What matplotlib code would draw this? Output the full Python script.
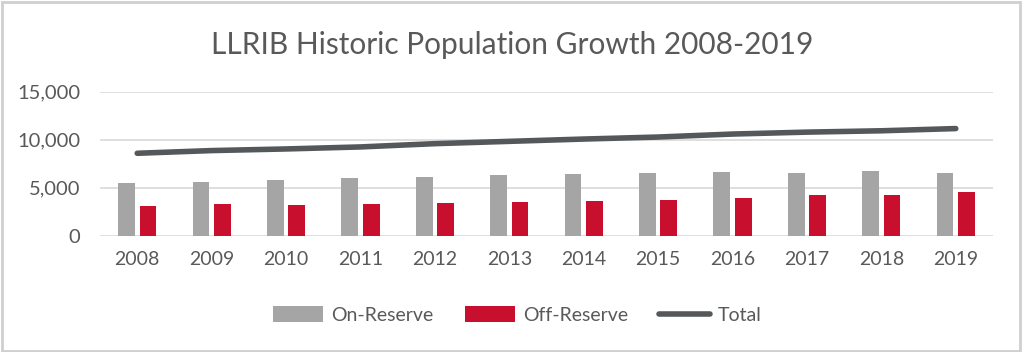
import numpy as np
import matplotlib.pyplot as plt
from matplotlib.patches import Rectangle

plt.rcParams['font.family'] = ['Lato', 'DejaVu Sans']

# данные
years = ['2008', '2009', '2010', '2011', '2012', '2013',
         '2014', '2015', '2016', '2017', '2018', '2019']
on_reserve = [5460, 5600, 5840, 5980, 6150, 6320,
              6460, 6530, 6670, 6560, 6700, 6560]
off_reserve = [3130, 3270, 3200, 3270, 3440, 3510,
               3610, 3750, 3920, 4230, 4230, 4550]
total = [8590, 8870, 9040, 9250, 9590, 9830,
         10070, 10280, 10590, 10790, 10930, 11160]

GRAY = '#A5A5A5'
RED = '#C8102E'
LINE = '#55585A'
TEXT = '#595959'

fig = plt.figure(figsize=(10.24, 3.52), dpi=100)
ax = fig.add_axes([100 / 1024, 0.330, 893 / 1024, 0.4096])

x = np.arange(len(years))
w = 0.225
b1 = ax.bar(x - 0.144, on_reserve, w, color=GRAY, label='On-Reserve', zorder=2)
b2 = ax.bar(x + 0.144, off_reserve, w, color=RED, label='Off-Reserve', zorder=2)
ln, = ax.plot(x, total, color=LINE, lw=4, solid_capstyle='round', label='Total', zorder=3)

ax.set_xlim(-0.5, len(years) - 0.5)
ax.set_ylim(0, 15000)
ax.set_yticks([0, 5000, 10000, 15000])
ax.set_yticklabels(['0', '5,000', '10,000', '15,000'])
ax.set_xticks(x)
ax.set_xticklabels(years)
ax.tick_params(axis='y', length=0, pad=14, labelsize=14.5, labelcolor=TEXT)
ax.tick_params(axis='x', length=0, pad=11, labelsize=14, labelcolor=TEXT)
ax.grid(axis='y', color='#D9D9D9', lw=1.2, zorder=0)
for s in ax.spines.values():
    s.set_visible(False)

fig.text(0.5, 0.872, 'LLRIB Historic Population Growth 2008-2019',
         ha='center', va='center', fontsize=21.5, color=TEXT)

leg = fig.legend([b1, b2, ln], ['On-Reserve', 'Off-Reserve', 'Total'],
                 loc='center', bbox_to_anchor=(0.505, 0.105), ncol=3,
                 frameon=False, fontsize=14, handlelength=2.6,
                 handleheight=0.9, columnspacing=1.6, handletextpad=0.4)
for t in leg.get_texts():
    t.set_color(TEXT)

# рамка вокруг картинки
fig.patches.append(Rectangle((0.002, 0.004), 0.994, 0.99, transform=fig.transFigure,
                             fill=False, edgecolor='#CFCFCF', lw=2))

fig.savefig('out.png', dpi=100)
